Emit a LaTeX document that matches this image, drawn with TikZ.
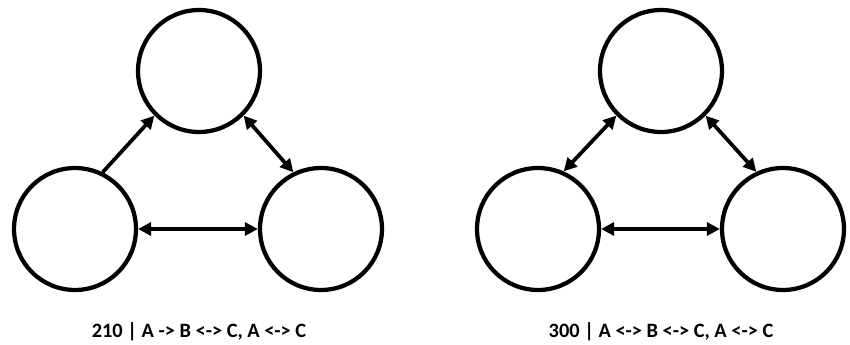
\documentclass[tikz,border=0pt]{standalone}
\usepackage{fontspec}
\setmainfont{Carlito}
\usetikzlibrary{arrows.meta}

\begin{document}
\begin{tikzpicture}[
    x=0.02cm, y=-0.02cm,
    agent/.style={
        draw=black,
        circle,
        line width=0.085cm,
        minimum size=2.44cm,
        inner sep=0pt
    },
    caption/.style={
        font=\bfseries\fontsize{11.6}{14}\selectfont
    },
    one/.style={line width=0.075cm, -{Triangle[length=2.6mm,width=2.6mm]}},
    both/.style={line width=0.075cm, {Triangle[length=2.6mm,width=2.6mm]}-{Triangle[length=2.6mm,width=2.6mm]}}
]
\useasboundingbox (0,0) rectangle (850,345);

% left triangle
\node[agent] (lb) at (199,71) {};
\node[agent] (la) at (75,229) {};
\node[agent] (lc) at (321,229) {};

\draw[one] (la.64) -- (lb.225);
\draw[both] (lb.-45) -- (lc.116);
\draw[both] (la.east) -- (lc.west);

\node[caption] (lcap) at (199,332) {210 | A -> B <-> C, A <-> C};

% right triangle
\node[agent] (rb) at (661,71) {};
\node[agent] (ra) at (538,229) {};
\node[agent] (rc) at (783,229) {};

\draw[both] (ra.66) -- (rb.225);
\draw[both] (rb.-45) -- (rc.115);
\draw[both] (ra.east) -- (rc.west);

\node[caption] (rcap) at (661,332) {300 | A <-> B <-> C, A <-> C};

\end{tikzpicture}
\end{document}
